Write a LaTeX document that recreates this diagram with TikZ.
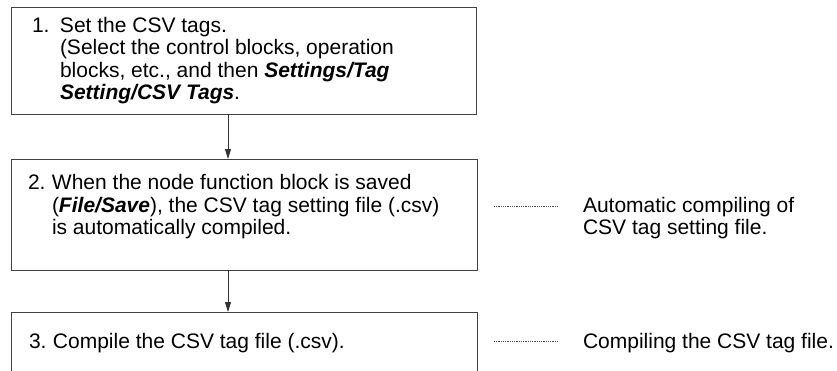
\documentclass[tikz,border=0pt]{standalone}
\usepackage{fontspec}
\setmainfont{Liberation Sans}
\usetikzlibrary{arrows.meta}
\begin{document}
\begin{tikzpicture}[x=1pt,y=-1pt,
  box/.style={draw=black!75, line width=1pt, inner sep=0pt, outer sep=0pt, anchor=north west},
  txt/.style={anchor=base west, inner sep=0pt, outer sep=0pt, align=left, font=\fontsize{21}{22.3}\selectfont},
  lbl/.style={anchor=base west, inner sep=0pt, outer sep=0pt, align=left, font=\fontsize{21}{22}\selectfont},
  arr/.style={draw=black!80, line width=0.8pt, -{Triangle[length=10pt,width=6pt]}},
  dots/.style={draw=black!70, line width=0.6pt, dash pattern=on 0.7pt off 1.1pt}]
\useasboundingbox[fill=white] (0,0) rectangle (837,370);
\node[box, minimum width=465.5pt, minimum height=107pt] (b1) at (11,7) {};
\node[box, minimum width=466pt, minimum height=111pt] (b2) at (11,159) {};
\node[box, minimum width=466pt, minimum height=100pt] (b3) at (11,312) {};
% base anchor = baseline of the last line
\node[txt] (t1) at (32,99.5) {\makebox[28pt][l]{1.}Set the CSV tags.\\
  \hspace*{28pt}(Select the control blocks, operation\\
  \hspace*{28pt}blocks, etc., and then \textbf{\textit{Settings/Tag}}\\
  \hspace*{28pt}\textbf{\textit{Setting/CSV Tags}}.};
\node[txt] (t2) at (28,234.5) {\makebox[24pt][l]{2.}When the node function block is saved\\
  \hspace*{24pt}(\textbf{\textit{File/Save}}), the CSV tag setting file (.csv)\\
  \hspace*{24pt}is automatically compiled.};
\node[txt] (t3) at (29,348) {\makebox[24pt][l]{3.}Compile the CSV tag file (.csv).};
\node[lbl] (l1) at (583,234.5) {Automatic compiling of\\CSV tag setting file.};
\node[lbl] (l2) at (583,348) {Compiling the CSV tag file.};
\coordinate (ax) at (228,0);
\draw[arr] (b1.south -| ax) -- (b2.north -| ax);
\draw[arr] (b2.south -| ax) -- (b3.north -| ax);
\coordinate (d1a) at (494,206.5);
\coordinate (d1b) at (558,206.5);
\coordinate (d2a) at (494,341);
\coordinate (d2b) at (558,341);
\draw[dots] (d1a) -- (d1b);
\draw[dots] (d2a) -- (d2b);
\end{tikzpicture}
\end{document}
